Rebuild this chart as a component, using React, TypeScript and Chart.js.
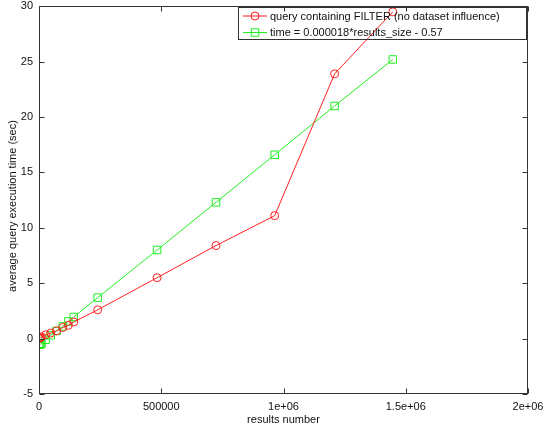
import React, { useEffect, useRef } from "react";
import { Chart, registerables } from "chart.js";

Chart.register(...registerables);

const resultsNumber = [1000, 3000, 6000, 10000, 27000, 48000, 72000, 97000, 120000, 142000, 240000, 483000, 724000, 964000, 1209000, 1447000];
const filterTimes = [0.0, 0.05, 0.1, 0.15, 0.35, 0.5, 0.7, 1.0, 1.2, 1.5, 2.6, 5.5, 8.4, 11.1, 23.9, 29.5];
const fitTimes = [-0.55, -0.53, -0.5, -0.45, -0.1, 0.3, 0.7, 1.1, 1.55, 1.95, 3.7, 8.0, 12.3, 16.6, 21.0, 25.2];

const seriesLabels = [
  "query containing FILTER (no dataset influence)",
  "time = 0.000018*results_size - 0.57",
];
const xTicks = [0, 500000, 1000000, 1500000, 2000000];
const xTickLabels = ["0", "500000", "1e+06", "1.5e+06", "2e+06"];
const yTicks = [-5, 0, 5, 10, 15, 20, 25, 30];
const xTitle = "results number";
const yTitle = "average query execution time (sec)";

const RED = "#ff2020";
const GREEN = "#20f020";
const FONT = "'Liberation Sans', Arial, sans-serif";

const framePlugin = {
  id: "frameAndLegend",
  afterDraw(chart: any) {
    const { ctx, chartArea, scales } = chart;
    const { left, right, top, bottom } = chartArea;
    ctx.save();
    ctx.strokeStyle = "#333";
    ctx.lineWidth = 1;
    const L = Math.round(left) + 0.5;
    const R = Math.round(right) - 0.5;
    const T = Math.round(top) + 0.5;
    const B = Math.round(bottom) - 0.5;
    ctx.strokeRect(L, T, R - L, B - T);
    // inward ticks
    ctx.beginPath();
    xTicks.forEach((v) => {
      const x = Math.round(scales.x.getPixelForValue(v)) + 0.5;
      ctx.moveTo(x, B);
      ctx.lineTo(x, B - 5);
      ctx.moveTo(x, T);
      ctx.lineTo(x, T + 5);
    });
    yTicks.forEach((v) => {
      const y = Math.round(scales.y.getPixelForValue(v)) + 0.5;
      ctx.moveTo(L, y);
      ctx.lineTo(L + 5, y);
      ctx.moveTo(R, y);
      ctx.lineTo(R - 5, y);
    });
    ctx.stroke();

    // y title
    ctx.fillStyle = "#111";
    ctx.font = "11px " + FONT;
    ctx.textAlign = "center";
    ctx.textBaseline = "middle";
    ctx.save();
    ctx.translate(13, 206);
    ctx.rotate(-Math.PI / 2);
    ctx.fillText(yTitle, 0, 0);
    ctx.restore();

    // legend
    const bx = 238.5, by = 7.5, bw = 288, bh = 32;
    ctx.strokeStyle = "#333";
    ctx.strokeRect(bx, by, bw, bh);
    const rows = [
      { y: 16, color: RED, shape: "circle", text: seriesLabels[0] },
      { y: 32.5, color: GREEN, shape: "square", text: seriesLabels[1] },
    ];
    rows.forEach((r) => {
      ctx.strokeStyle = r.color;
      ctx.beginPath();
      ctx.moveTo(243, r.y);
      ctx.lineTo(267, r.y);
      ctx.stroke();
      ctx.beginPath();
      if (r.shape === "circle") {
        ctx.arc(255, r.y, 4, 0, Math.PI * 2);
      } else {
        ctx.rect(251.25, r.y - 3.75, 7.5, 7.5);
      }
      ctx.stroke();
      ctx.fillStyle = "#111";
      ctx.textAlign = "left";
      ctx.textBaseline = "middle";
      ctx.fillText(r.text, 270, r.y + 0.5);
    });
    ctx.restore();
  },
};

export default function App() {
  const ref = useRef<HTMLCanvasElement | null>(null);
  useEffect(() => {
    if (!ref.current) return;
    const chart = new Chart(ref.current, {
      type: "scatter",
      data: {
        datasets: [
          {
            label: seriesLabels[0],
            data: resultsNumber.map((x, i) => ({ x, y: filterTimes[i] })),
            showLine: true,
            borderColor: RED,
            borderWidth: 1,
            backgroundColor: "rgba(0,0,0,0)",
            pointStyle: "circle",
            pointRadius: 4,
            pointBorderWidth: 1,
            pointBorderColor: RED,
            pointBackgroundColor: "rgba(0,0,0,0)",
          },
          {
            label: seriesLabels[1],
            data: resultsNumber.map((x, i) => ({ x, y: fitTimes[i] })),
            showLine: true,
            borderColor: GREEN,
            borderWidth: 1,
            backgroundColor: "rgba(0,0,0,0)",
            pointStyle: "rect",
            pointRadius: 5.3,
            pointBorderWidth: 1,
            pointBorderColor: GREEN,
            pointBackgroundColor: "rgba(0,0,0,0)",
          },
        ],
      },
      options: {
        animation: false,
        responsive: false,
        devicePixelRatio: 1,
        layout: { padding: { top: 4, right: 18, left: 0, bottom: 0 } },
        plugins: { legend: { display: false }, tooltip: { enabled: false } },
        scales: {
          x: {
            type: "linear",
            min: 0,
            max: 2000000,
            afterBuildTicks: (s: any) => {
              s.ticks = xTicks.map((v) => ({ value: v }));
            },
            afterFit: (s: any) => {
              s.height = 35;
              s.paddingLeft = 0;
              s.paddingRight = 0;
            },
            grid: { display: false, drawTicks: false },
            border: { display: false },
            ticks: {
              padding: 6,
              color: "#111",
              font: { family: FONT, size: 11 },
              maxRotation: 0,
              autoSkip: false,
              callback: (v: any) => {
                const i = xTicks.indexOf(Number(v));
                return i >= 0 ? xTickLabels[i] : "";
              },
            },
            title: {
              display: true,
              text: xTitle,
              color: "#111",
              font: { family: FONT, size: 11 },
              padding: { top: 0, bottom: 2 },
            },
          },
          y: {
            type: "linear",
            min: -5,
            max: 30,
            afterBuildTicks: (s: any) => {
              s.ticks = yTicks.map((v) => ({ value: v }));
            },
            afterFit: (s: any) => {
              s.width = 39;
              s.paddingTop = 0;
              s.paddingBottom = 0;
            },
            grid: { display: false, drawTicks: false },
            border: { display: false },
            ticks: {
              padding: 6,
              color: "#111",
              font: { family: FONT, size: 11 },
              autoSkip: false,
            },
          },
        },
      },
      plugins: [framePlugin],
    } as any);
    return () => chart.destroy();
  }, []);
  return (
    <div style={{ position: "fixed", left: 0, top: 0, width: 546, height: 429, background: "#fff" }}>
      <canvas ref={ref} width={546} height={429} style={{ display: "block" }} />
    </div>
  );
}
